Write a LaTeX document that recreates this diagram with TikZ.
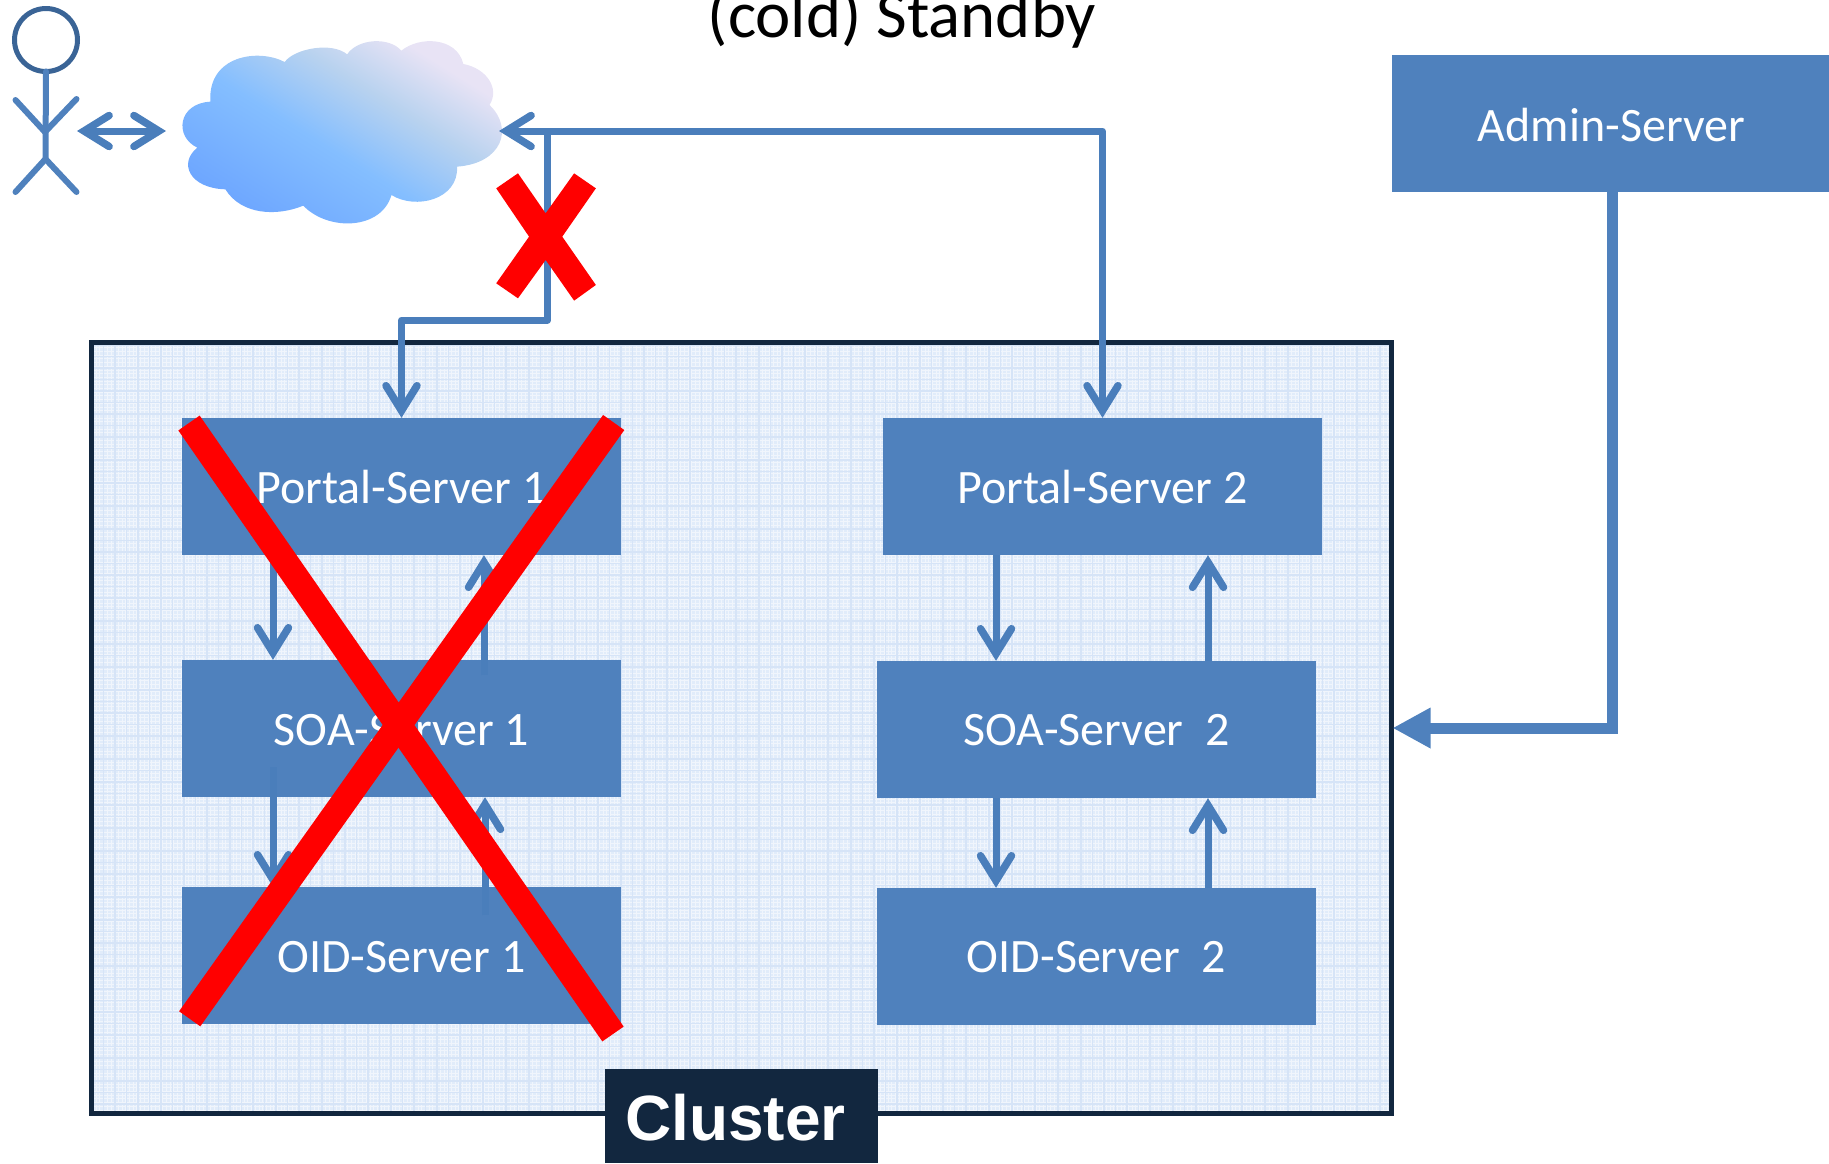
\documentclass[tikz,border=0pt]{standalone}
\usepackage{fontspec}
\setmainfont{Carlito}
\newfontfamily\lbl{Liberation Sans}
\usetikzlibrary{arrows.meta,calc}
\definecolor{boxb}{HTML}{4F81BD}
\definecolor{linb}{HTML}{4A7EBB}
\definecolor{headb}{HTML}{3A6496}
\definecolor{navy}{HTML}{12273F}
\definecolor{panel}{HTML}{E1ECFA}
\definecolor{gridb}{HTML}{D6E4F7}
\definecolor{cloudA}{HTML}{6EA7FF}
\definecolor{cloudB}{HTML}{84BEFF}
\definecolor{cloudM}{HTML}{B8D2EF}
\definecolor{cloudC}{HTML}{E8E3F5}
\pgfdeclareverticalshading{cloudfill}{100bp}{color(0bp)=(cloudA); color(27bp)=(cloudA); color(46bp)=(cloudB); color(60bp)=(cloudM); color(72bp)=(cloudC); color(100bp)=(cloudC)}
\tikzset{
 srv/.style={fill=boxb,text=white,minimum width=439pt,minimum height=137pt,inner sep=0pt,text height=34pt,text depth=0pt,font=\fontsize{48}{48}\selectfont},
 arr/.style={draw=linb,line width=7pt,-{Straight Barb[length=25pt,width=31pt,line width=7.5pt,line cap=round]}},
 both/.style={draw=linb,line width=7pt,{Straight Barb[length=25pt,width=31pt,line width=7.5pt,line cap=round]}-{Straight Barb[length=25pt,width=31pt,line width=7.5pt,line cap=round]}},
 adm/.style={draw=boxb,line width=11pt,-{Triangle[length=38pt,width=38pt]}},
 cross/.style={draw=red,line width=26pt},
 stick/.style={draw=boxb,line width=6pt,line cap=round},
}
\begin{document}
\begin{tikzpicture}[x=1pt,y=-1pt]
\useasboundingbox (0,0) rectangle (1829,1163);
% panel
\fill[panel] (91,342) rectangle (1392,1114);
\draw[white,opacity=.5,line width=1pt,step=3.7pt,yscale=-1] (91,-1114) grid (1392,-342);
\draw[gridb,line width=1.2pt,step=11.5pt,yscale=-1] (91,-1114) grid (1392,-342);
\node[draw=navy,line width=5pt,minimum width=1300pt,minimum height=771pt,inner sep=0pt,outer sep=0pt] (cluster) at (741.5,728) {};
% title
\node[anchor=base,font=\fontsize{66.8}{66.8}\selectfont] (title) at (902,37) {(cold) Standby};
% servers
\node[srv] (p1) at (401.5,486.5) {Portal-Server 1};
\node[srv] (s1) at (401.5,728.5) {SOA-Server 1};
\node[srv] (o1) at (401.5,955.5) {OID-Server 1};
\node[srv] (p2) at (1102.5,486.5) {Portal-Server 2};
\node[srv,text height=32pt] (s2) at (1096.5,729.5) {SOA-Server\ \ 2};
\node[srv,text height=32pt] (o2) at (1096.5,956.5) {OID-Server\ \ 2};
\node[srv,minimum width=437pt,minimum height=137pt,text height=35pt] (admin) at (1610.5,123.5) {\kern2pt Admin-Server};
\node[fill=navy,text=white,minimum width=273pt,minimum height=94pt,inner sep=0pt,text height=48pt,text depth=0pt,font=\lbl\bfseries\fontsize{64}{64}\selectfont] (clabel) at (741.5,1116) {Cluster\kern12pt\null};
% stick figure
\node[draw=headb,line width=5pt,circle,minimum size=63pt,inner sep=0pt,outer sep=0pt] (head) at (46,40) {};
\coordinate (hip) at (45.5,159);
\coordinate (chest) at (45,132);
\draw[stick] (head.south) -- (hip);
\draw[stick] (chest) -- (15.5,100);
\draw[stick] (chest) -- (76.5,99);
\draw[stick] (hip) -- (15.5,192);
\draw[stick] (hip) -- (76.5,192);
% cloud
\begin{scope}[x=0.3954pt,y=-0.3333pt]
\shade[shading=cloudfill,shading angle=-32]
 (720,186) .. controls (745,145) and (840,125) .. (878,163)
 .. controls (905,115) and (985,110) .. (1015,152)
 .. controls (1060,108) and (1155,110) .. (1172,192)
 .. controls (1230,205) and (1265,265) .. (1238,315)
 .. controls (1300,385) and (1270,490) .. (1156,500)
 .. controls (1160,600) and (1050,630) .. (990,585)
 .. controls (965,690) and (830,695) .. (767,617)
 .. controls (700,650) and (610,645) .. (570,568)
 .. controls (480,565) and (450,490) .. (499,443)
 .. controls (440,410) and (450,310) .. (532,305)
 .. controls (525,165) and (655,145) .. (720,186) -- cycle;
\end{scope}
\coordinate (cloudE) at (499,131);
\coordinate (cloudW) at (166,131);
\coordinate (manE) at (77,131);
% connectors
\draw[both] (manE) -- (cloudW);
\coordinate (j1) at (547.5,131);
\coordinate (j2) at (547.5,320);
\draw[both,line join=round] (cloudE) -| (p2.north);
\draw[arr,line join=round] (j1) -- (j2) -| (p1.north);
\coordinate (xa) at (273,0);
\coordinate (xd) at (996,0);
\coordinate (xe) at (1208,0);
\coordinate (xadm) at (1612,0);
\coordinate (sa) at (484,675);
\coordinate (sb) at (273,767);
\coordinate (sc) at (485,915);
\draw[arr] (p1.south -| xa) -- (s1.north -| xa);
\draw[arr] (sa) -- (p1.south -| sa);
\draw[arr] (sb) -- (o1.north -| sb);
\draw[arr] (sc) -- (s1.south -| sc);
\draw[arr] (p2.south -| xd) -- (s2.north -| xd);
\draw[arr] (s2.north -| xe) -- (p2.south -| xe);
\draw[arr] (s2.south -| xd) -- (o2.north -| xd);
\draw[arr] (o2.north -| xe) -- (s2.south -| xe);
\draw[adm] (admin.south -| xadm) |- ($(cluster.east)+(1,0)$);
% red crosses
\coordinate (ca) at (189,423);
\coordinate (cb) at (613,1034);
\coordinate (cc) at (613.7,422.5);
\coordinate (cd) at (189.7,1018.8);
\draw[cross] (ca) -- (cb);
\draw[cross] (cc) -- (cd);
\begin{scope}[x=0.3954pt,y=-0.3333pt]
\fill[red] (1310,520) -- (1380,640) -- (1452,520) -- (1507,565) -- (1422,710) -- (1507,855) -- (1452,902) -- (1380,780) -- (1310,895) -- (1255,850) -- (1338,710) -- (1255,565) -- cycle;
\end{scope}
\end{tikzpicture}
\end{document}
